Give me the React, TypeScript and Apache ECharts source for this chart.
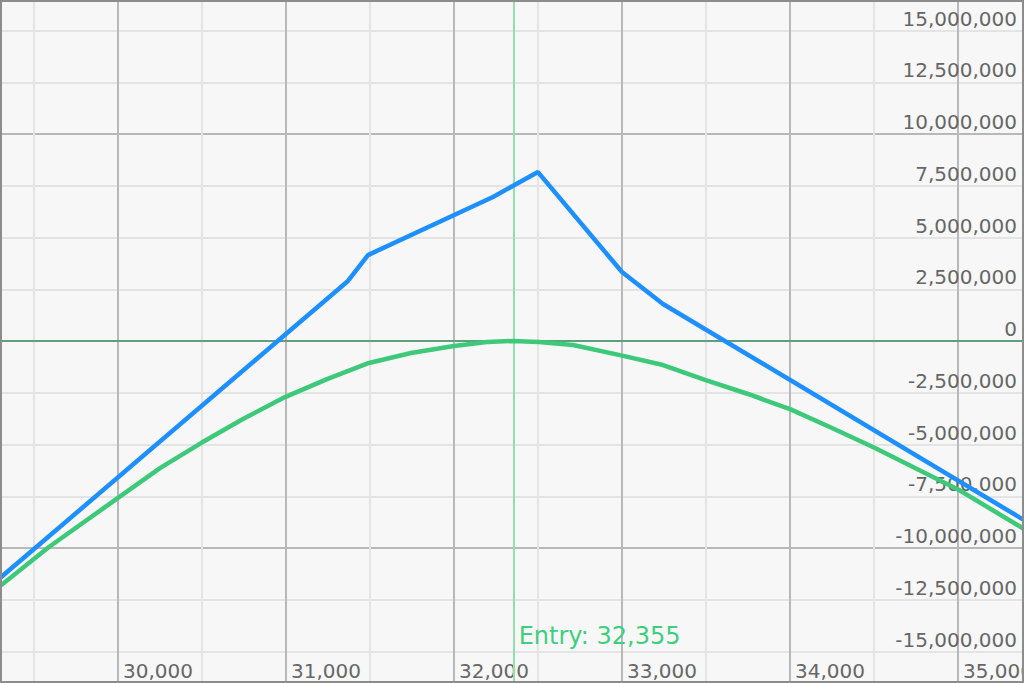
import React, { useEffect, useRef } from "react";
import * as echarts from "echarts";

const ENTRY = 32355;
const X_LABELS = [30000, 31000, 32000, 33000, 34000, 35000];
const Y_LABEL_LIMIT = 15000000;

// Blue: expiry P&L
const blueX = [29298, 31369, 31488, 32232, 32500, 33000, 33244, 35393];
const blueY = [-11450000, 2900000, 4150000, 6960000, 8160000, 3330000, 1790000, -8650000];

// Green: current P&L curve
const greenX = [29298, 29589, 30000, 30250, 30494, 30744, 30994, 31244, 31494, 31744, 32000, 32196, 32351, 32506, 32708, 32988, 33244, 33494, 33750, 34000, 34250, 34506, 34756, 35006, 35393];
const greenY = [-11840000, -9950000, -7580000, -6140000, -4930000, -3770000, -2710000, -1840000, -1060000, -580000, -240000, -50000, 0, -50000, -190000, -680000, -1160000, -1880000, -2560000, -3290000, -4200000, -5170000, -6180000, -7200000, -9080000];

const ENTRY_LABEL_Y = -14250000;

const FONT = "DejaVu Sans";

export default function App() {
  const ref = useRef<HTMLDivElement>(null);
  useEffect(() => {
    if (!ref.current) return;
    const chart = echarts.init(ref.current, null, { renderer: "svg" });
    const fmt = (v: number) => v.toLocaleString("en-US");
    chart.setOption({
      animation: false,
      backgroundColor: "#f7f7f7",
      grid: {
        left: -50,
        right: -18,
        top: -21.25,
        bottom: -20.25,
        containLabel: false,
        outerBoundsMode: "none",
      },
      xAxis: {
        type: "value",
        min: 29000,
        max: 35500,
        interval: 500,
        axisLine: { show: false },
        axisTick: { show: false },
        splitLine: { show: true, lineStyle: { color: ["#b8b8b8", "#e4e4e4"], width: 2 } },
        axisLabel: {
          inside: true,
          margin: 20,
          align: "left",
          verticalAlign: "bottom",
          lineHeight: 24,
          padding: [0, 0, 0, 5],
          color: "#666",
          fontFamily: FONT,
          fontSize: 20,
          formatter: (v: number) => (X_LABELS.includes(v) ? fmt(v) : ""),
        },
      },
      yAxis: {
        type: "value",
        position: "right",
        min: -17500000,
        max: 17500000,
        interval: 2500000,
        axisLine: { show: false },
        axisTick: { show: false },
        splitLine: { show: true, lineStyle: { color: ["#e4e4e4", "#e4e4e4", "#e4e4e4", "#b8b8b8"], width: 2 } },
        axisLabel: {
          inside: true,
          margin: 25,
          align: "right",
          verticalAlign: "bottom",
          lineHeight: 24,
          color: "#666",
          fontFamily: FONT,
          fontSize: 20,
          formatter: (v: number) => (Math.abs(v) <= Y_LABEL_LIMIT ? fmt(v) : ""),
        },
      },
      graphic: [
        {
          type: "rect",
          shape: { x: 1, y: 1, width: 1022, height: 681 },
          style: { fill: "none", stroke: "#8c8c8c", lineWidth: 2 },
          silent: true,
          z: 100,
        },
      ],
      series: [
        {
          type: "line",
          name: "expiry",
          data: blueX.map((x, i) => [x, blueY[i]]),
          showSymbol: false,
          symbol: "none",
          lineStyle: { color: "#1e8fff", width: 4.5 },
          z: 3,
          markLine: {
            silent: true,
            symbol: ["none", "none"],
            label: { show: false },
            z: 1,
            data: [
              { yAxis: 0, lineStyle: { color: "#5f9f80", width: 2, type: "solid" } },
              { xAxis: ENTRY, lineStyle: { color: "#93dfb0", width: 2, type: "solid" } },
            ],
          },
        },
        {
          type: "line",
          name: "current",
          data: greenX.map((x, i) => [x, greenY[i]]),
          showSymbol: false,
          symbol: "none",
          lineStyle: { color: "#3ec97a", width: 4.5 },
          z: 4,
          markPoint: {
            silent: true,
            symbol: "circle",
            symbolSize: 0,
            data: [
              {
                coord: [ENTRY, ENTRY_LABEL_Y],
                label: {
                  show: true,
                  position: "right",
                  distance: 5,
                  formatter: `Entry: ${fmt(ENTRY)}`,
                  color: "#3ecf7e",
                  fontFamily: FONT,
                  fontSize: 24,
                },
              },
            ],
          },
        },
      ],
    });
    return () => chart.dispose();
  }, []);
  return <div ref={ref} style={{ position: "fixed", left: 0, top: 0, width: 1024, height: 683 }} />;
}
